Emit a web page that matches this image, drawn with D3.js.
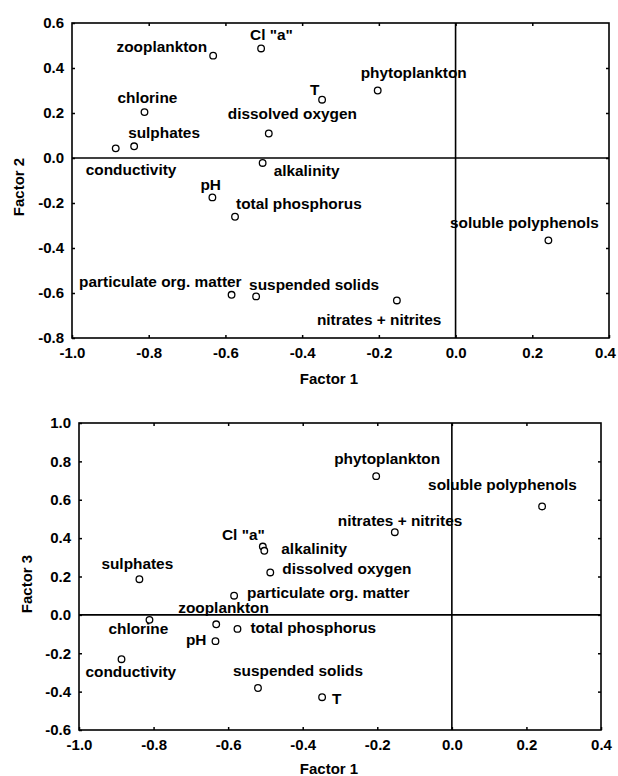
<!DOCTYPE html>
<html>
<head>
<meta charset="utf-8">
<script src="https://cdn.jsdelivr.net/npm/d3@7"></script>
<style>
  html, body { margin: 0; padding: 0; background: #fff; }
  svg { display: block; font-family: "Liberation Sans", Arial, sans-serif; font-weight: bold; }
</style>
</head>
<body>
<svg id="chart" width="618" height="776"></svg>
<script>
// Variable names and factor loadings
const variables = [
  "conductivity", "chlorine", "sulphates", "zooplankton", "Cl \"a\"",
  "dissolved oxygen", "alkalinity", "T", "phytoplankton", "pH",
  "total phosphorus", "particulate org. matter", "suspended solids",
  "nitrates + nitrites", "soluble polyphenols"
];
const factor1 = [-0.886, -0.811, -0.838, -0.632, -0.507, -0.487, -0.503, -0.348, -0.203, -0.634, -0.575, -0.584, -0.520, -0.153, 0.242];
const factor2 = [0.043, 0.204, 0.052, 0.455, 0.487, 0.109, -0.022, 0.259, 0.300, -0.175, -0.261, -0.608, -0.615, -0.633, -0.366];
const factor3 = [-0.231, -0.026, 0.186, -0.049, 0.356, 0.221, 0.334, -0.429, 0.723, -0.137, -0.073, 0.100, -0.381, 0.431, 0.565];

// Axis ticks
const xTicks = [-1.0, -0.8, -0.6, -0.4, -0.2, 0.0, 0.2, 0.4];
const y2Ticks = [-0.8, -0.6, -0.4, -0.2, 0.0, 0.2, 0.4, 0.6];
const y3Ticks = [-0.6, -0.4, -0.2, 0.0, 0.2, 0.4, 0.6, 0.8, 1.0];

// Label placement around each point: [dx, dy, anchor]
const labelPos2 = [
  [-30, 27, "start"], [-27, -9, "start"], [-6, -8, "start"], [-6, -4, "end"], [-11, -8, "start"],
  [-41, -14, "start"], [11, 13, "start"], [-12, -5, "start"], [-17, -13, "start"], [-12, -7, "start"],
  [1, -8, "start"], [10, -8, "end"], [-7, -6, "start"], [-80, 25, "start"], [-24, -12, "middle"]
];
const labelPos3 = [
  [-36, 18, "start"], [-41, 14, "start"], [-38, -10, "start"], [-38, -11, "start"], [2, -7, "end"],
  [12, 2, "start"], [17, 3, "start"], [10, 7, "start"], [-42, -12, "start"], [-9, 4, "end"],
  [13, 4, "start"], [13, 2, "start"], [-25, -12, "start"], [-57, -6, "start"], [-114, -16, "start"]
];

const svg = d3.select("#chart");
const fmt = d => d.toFixed(1);

function drawPanel(cfg) {
  const x = d3.scaleLinear().domain([-1.0, 0.4]).range([cfg.left, cfg.right]);
  const y = d3.scaleLinear().domain(cfg.yDomain).range([cfg.bottom, cfg.top]);
  const g = svg.append("g");

  // inward ticks on all four sides
  const innerX = xTicks.slice(1, -1);
  const innerY = cfg.yTicks.slice(1, -1);

  const bottomAxis = g.append("g")
    .attr("transform", `translate(0,${cfg.bottom})`)
    .call(d3.axisBottom(x).tickValues(xTicks).tickFormat(fmt).tickSize(-3).tickPadding(9.5));
  const leftAxis = g.append("g")
    .attr("transform", `translate(${cfg.left},0)`)
    .call(d3.axisLeft(y).tickValues(cfg.yTicks).tickFormat(fmt).tickSize(-3).tickPadding(8));
  const topAxis = g.append("g")
    .attr("transform", `translate(0,${cfg.top})`)
    .call(d3.axisTop(x).tickValues(innerX).tickFormat("").tickSize(-3));
  const rightAxis = g.append("g")
    .attr("transform", `translate(${cfg.right},0)`)
    .call(d3.axisRight(y).tickValues(innerY).tickFormat("").tickSize(-3));

  [bottomAxis, leftAxis, topAxis, rightAxis].forEach(a => {
    a.select(".domain").remove();
    a.selectAll("line").attr("stroke", "#000").attr("stroke-width", 1.5);
    a.selectAll("text")
      .attr("fill", "#000")
      .style("font-family", "'Liberation Sans', Arial, sans-serif")
      .style("font-weight", "bold")
      .style("font-size", "15px");
  });
  // keep the last x label inside the page
  bottomAxis.selectAll(".tick text").filter(d => d === 0.4).attr("dx", cfg.lastDx);

  // frame
  g.append("rect")
    .attr("x", cfg.left).attr("y", cfg.top)
    .attr("width", cfg.right - cfg.left).attr("height", cfg.bottom - cfg.top)
    .attr("fill", "none").attr("stroke", "#000").attr("stroke-width", 1.6);

  // zero reference lines
  g.append("line")
    .attr("x1", x(0)).attr("x2", x(0)).attr("y1", cfg.top).attr("y2", cfg.bottom)
    .attr("stroke", "#000").attr("stroke-width", 1.6);
  g.append("line")
    .attr("x1", cfg.left).attr("x2", cfg.right).attr("y1", y(0)).attr("y2", y(0))
    .attr("stroke", "#000").attr("stroke-width", 1.6);

  const pts = variables.map((name, i) => ({ name, fx: factor1[i], fy: cfg.yValues[i], lp: cfg.labels[i] }));

  // points
  g.selectAll("circle.pt").data(pts).join("circle")
    .attr("class", "pt")
    .attr("cx", d => x(d.fx)).attr("cy", d => y(d.fy))
    .attr("r", 3.3)
    .attr("fill", "#fff").attr("stroke", "#000").attr("stroke-width", 1.3);

  // point labels
  g.selectAll("text.lbl").data(pts).join("text")
    .attr("class", "lbl")
    .attr("x", d => x(d.fx) + d.lp[0])
    .attr("y", d => y(d.fy) + d.lp[1])
    .attr("text-anchor", d => d.lp[2])
    .attr("font-size", 15.4)
    .attr("fill", "#000")
    .text(d => d.name);

  // axis titles
  g.append("text")
    .attr("x", cfg.xTitle[0]).attr("y", cfg.xTitle[1])
    .attr("text-anchor", "middle").attr("font-size", 15)
    .text("Factor 1");
  g.append("text")
    .attr("transform", `translate(${cfg.yTitle[0]},${cfg.yTitle[1]}) rotate(-90)`)
    .attr("text-anchor", "middle").attr("dy", "0.35em").attr("font-size", 15)
    .text(cfg.yLabel);
}

drawPanel({
  left: 72, right: 609, top: 23, bottom: 338, lastDx: -4,
  yDomain: [-0.8, 0.6], yTicks: y2Ticks, yValues: factor2, labels: labelPos2,
  xTitle: [329, 384], yTitle: [19, 187], yLabel: "Factor 2"
});

drawPanel({
  left: 79, right: 601, top: 423, bottom: 730, lastDx: 0,
  yDomain: [-0.6, 1.0], yTicks: y3Ticks, yValues: factor3, labels: labelPos3,
  xTitle: [329, 774], yTitle: [27, 584], yLabel: "Factor 3"
});
</script>
</body>
</html>
